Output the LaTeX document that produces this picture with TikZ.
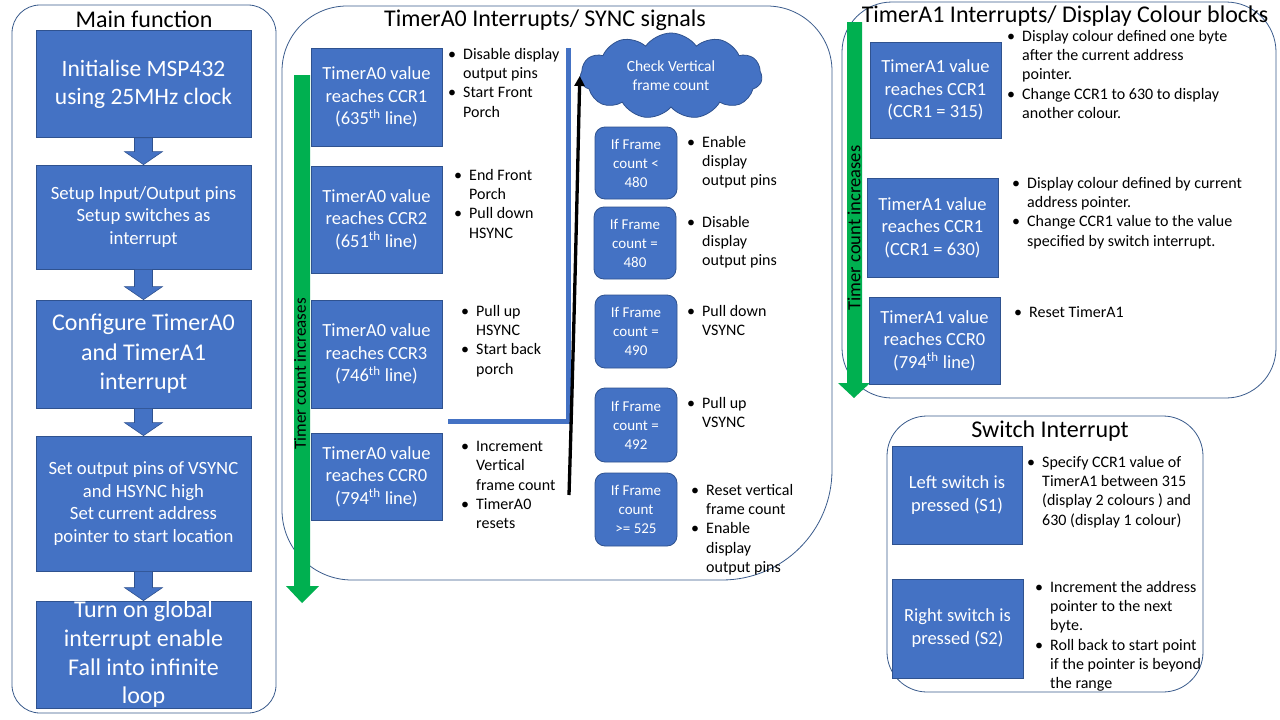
\documentclass[tikz,border=0pt]{standalone}
\usepackage{fontspec}
\setmainfont{Carlito}
\usetikzlibrary{shapes.symbols,arrows.meta,calc}
\definecolor{boxc}{HTML}{4472C4}
\definecolor{boxd}{HTML}{2F528F}
\definecolor{panelc}{HTML}{3A5B8C}
\definecolor{grn}{HTML}{00B050}
\newcommand\bl{\makebox[15pt][l]{\textbullet}}
\newcommand\ind{\hspace*{15pt}}
\tikzset{
  panel/.style={draw=panelc,line width=0.8pt},
  ttl/.style={font=\fontsize{24}{28}\selectfont,inner sep=0pt},
  sqbox/.style={fill=boxc,draw=boxd,line width=0.8pt,text=white,align=center,inner sep=0pt},
  rbox/.style={sqbox,rounded corners=10pt},
  mbox/.style={sqbox,font=\fontsize{24}{28.7}\selectfont},
  mboxs/.style={sqbox,font=\fontsize{18.7}{22.6}\selectfont},
  tbox/.style={sqbox,font=\fontsize{18.5}{22.5}\selectfont},
  fbox/.style={rbox,font=\fontsize{15}{19}\selectfont},
  blist/.style={anchor=north west,align=left,inner sep=0pt,font=\fontsize{16}{19.3}\selectfont},
  barrow/.style={fill=boxc,draw=boxd,line width=0.6pt},
  garrow/.style={fill=grn,draw=none},
  tci/.style={rotate=90,inner sep=0pt}
}
\newcommand\blockarrow[2]{%
  \path[barrow] ($(#1.south)+(-9,0)$) -- ($(#1.south)+(9,0)$) -- ($(#2.north)+(9,-13)$) --
  ($(#2.north)+(19,-13)$) -- (#2.north) -- ($(#2.north)+(-19,-13)$) -- ($(#2.north)+(-9,-13)$) -- cycle;}
\begin{document}
\begin{tikzpicture}[x=1pt,y=-1pt]
\useasboundingbox[fill=white] (0,0) rectangle (1280,720);

% ---------- Main function ----------
\draw[panel,rounded corners=28pt] (12,5) rectangle (276,713);
\node[ttl] (tmain) at (144,19) {Main function};
\node[mbox,font=\fontsize{23.5}{28}\selectfont,minimum width=215pt,minimum height=107pt] (m1) at (143.5,84) {Initialise MSP432\\using 25MHz clock};
\node[mboxs,minimum width=215pt,minimum height=104pt] (m2) at (143.5,217) {Setup Input/Output pins\\Setup switches as\\interrupt};
\node[mbox,font=\fontsize{24}{29.5}\selectfont,minimum width=215pt,minimum height=108pt] (m3) at (143.5,354) {Configure TimerA0\\and TimerA1\\interrupt};
\node[mboxs,minimum width=215pt,minimum height=135pt] (m4) at (143.5,503.5) {Set output pins of VSYNC\\and HSYNC high\\Set current address\\pointer to start location};
\node[mbox,minimum width=215pt,minimum height=107pt] (m5) at (143.5,654.5) {Turn on global\\interrupt enable\\Fall into infinite\\loop};
\blockarrow{m1}{m2}
\blockarrow{m2}{m3}
\blockarrow{m3}{m4}
\blockarrow{m4}{m5}

% ---------- TimerA0 ----------
\draw[panel] (282,300) -- (282,71) arc[start angle=180,end angle=270,radius=65] -- (767,6)
  arc[start angle=270,end angle=360,radius=65] -- (832,470)
  arc[start angle=0,end angle=90,radius=110] -- (352,580)
  arc[start angle=90,end angle=180,radius=70] -- cycle;
\node[ttl] (ta0) at (545,20) {TimerA0 Interrupts/ SYNC signals};
\path[garrow] (294,75) -- (310,75) -- (310,586) -- (319,586) -- (302,603) -- (286,586) -- (294,586) -- cycle;
\node[tci,font=\fontsize{17}{20}\selectfont] (tci0) at (300,374) {Timer count increases};

\node[tbox,minimum width=131pt,minimum height=98pt] (c1) at (376.5,97) {TimerA0 value\\reaches CCR1\\(635\textsuperscript{th} line)};
\node[tbox,minimum width=131pt,minimum height=107pt] (c2) at (376.5,219.5) {TimerA0 value\\reaches CCR2\\(651\textsuperscript{th} line)};
\node[tbox,minimum width=131pt,minimum height=108pt] (c3) at (376.5,354) {TimerA0 value\\reaches CCR3\\(746\textsuperscript{th} line)};
\node[tbox,minimum width=131pt,minimum height=87pt] (c0) at (376.5,476.5) {TimerA0 value\\reaches CCR0\\(794\textsuperscript{th} line)};

\node[blist] (lc1) at (448,48) {\bl Disable display\\\ind output pins\\\bl Start Front\\\ind Porch};
\node[blist] (lc2) at (454,169) {\bl End Front\\\ind Porch\\\bl Pull down\\\ind HSYNC};
\node[blist] (lc3) at (461,305) {\bl Pull up\\\ind HSYNC\\\bl Start back\\\ind porch};
\node[blist] (lc0) at (461,441) {\bl Increment\\\ind Vertical\\\ind frame count\\\bl TimerA0\\\ind resets};

\fill[boxc] (566,48) rectangle (571,424);
\fill[boxc] (448,419) rectangle (571,424);

\node[cloud,cloud puffs=11,cloud puff arc=110,aspect=2.1,fill=boxc,draw=boxd,line width=0.8pt,
      minimum width=182pt,minimum height=86pt,inner sep=0pt,text=white,align=center,
      font=\fontsize{15.5}{19}\selectfont] (cl) at (671,76) {Check Vertical\\frame count};
\coordinate (blk) at (569,495);
\draw[line width=3.3pt,-{Triangle[length=10pt,width=10pt]}] (blk) .. controls (574,330) and (577,200) .. (cl.west);

\node[fbox,minimum width=82pt,minimum height=72pt] (f1) at (636,163) {If Frame\\count <\\480};
\node[fbox,minimum width=82pt,minimum height=72pt] (f2) at (635,243) {If Frame\\count =\\480};
\node[fbox,minimum width=82pt,minimum height=73pt] (f3) at (636,331.5) {If Frame\\count =\\490};
\node[fbox,minimum width=82pt,minimum height=74pt] (f4) at (636,425) {If Frame\\count =\\492};
\node[fbox,minimum width=82pt,minimum height=73pt] (f5) at (636,509.5) {If Frame\\count\\>= 525};

\node[blist] (lf1) at (687,136) {\bl Enable\\\ind display\\\ind output pins};
\node[blist] (lf2) at (687,216) {\bl Disable\\\ind display\\\ind output pins};
\node[blist] (lf3) at (687,305) {\bl Pull down\\\ind VSYNC};
\node[blist] (lf4) at (687,397) {\bl Pull up\\\ind VSYNC};
\node[blist] (lf5) at (691,484) {\bl Reset vertical\\\ind frame count\\\bl Enable\\\ind display\\\ind output pins};

% ---------- TimerA1 ----------
\draw[panel,rounded corners=50pt] (842,2) rectangle (1276,398);
\node[ttl] (ta1) at (1065,16) {TimerA1 Interrupts/ Display Colour blocks};
\path[garrow] (847,22) -- (862,22) -- (862,383) -- (870,383) -- (854,398) -- (838,383) -- (847,383) -- cycle;
\node[tci,font=\fontsize{18.5}{22}\selectfont] (tci1) at (854,228) {Timer count increases};

\node[tbox,minimum width=131pt,minimum height=96pt] (a1) at (935.5,90) {TimerA1 value\\reaches CCR1\\(CCR1 = 315)};
\node[tbox,minimum width=131pt,minimum height=99pt] (a2) at (932.5,227.5) {TimerA1 value\\reaches CCR1\\(CCR1 = 630)};
\node[tbox,minimum width=131pt,minimum height=87pt] (a0) at (934.5,340.5) {TimerA1 value\\reaches CCR0\\(794\textsuperscript{th} line)};

\node[blist] (la1) at (1007,30) {\bl Display colour defined one byte\\\ind after the current address\\\ind pointer.\\\bl Change CCR1 to 630 to display\\\ind another colour.};
\node[blist] (la2) at (1012,177) {\bl Display colour defined by current\\\ind address pointer.\\\bl Change CCR1 value to the value\\\ind specified by switch interrupt.};
\node[blist] (la0) at (1014,306) {\bl Reset TimerA1};

% ---------- Switch Interrupt ----------
\draw[panel,rounded corners=40pt] (887,416) rectangle (1203,692);
\node[ttl] (tsw) at (1050,431) {Switch Interrupt};
\node[tbox,font=\fontsize{18.5}{23}\selectfont,minimum width=130pt,minimum height=98pt] (s1) at (957,495) {Left switch is\\pressed (S1)};
\node[tbox,font=\fontsize{18.5}{23}\selectfont,minimum width=131pt,minimum height=99pt] (s2) at (957.5,628.5) {Right switch is\\pressed (S2)};
\node[blist] (ls1) at (1027,456) {\bl Specify CCR1 value of\\\ind TimerA1 between 315\\\ind (display 2 colours ) and\\\ind 630 (display 1 colour)};
\node[blist] (ls2) at (1035,581) {\bl Increment the address\\\ind pointer to the next\\\ind byte.\\\bl Roll back to start point\\\ind if the pointer is beyond\\\ind the range};
\end{tikzpicture}
\end{document}
